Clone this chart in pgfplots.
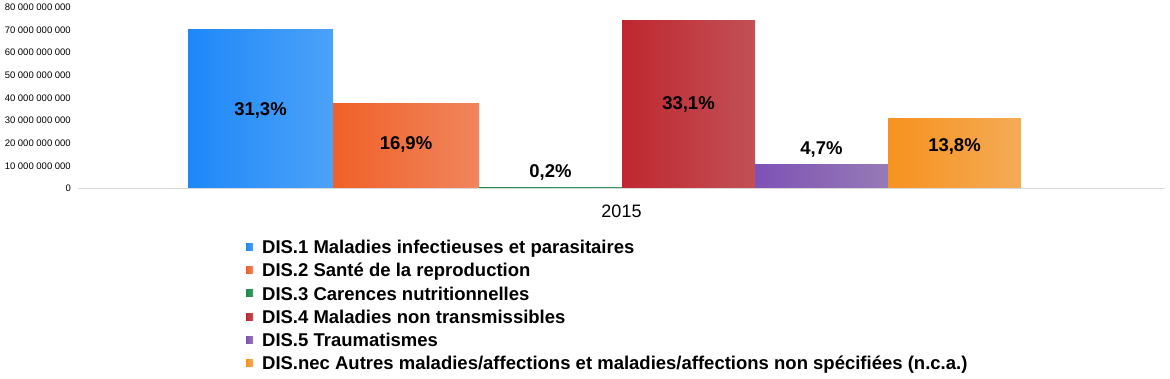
\documentclass[border=0pt]{standalone}
\usepackage{pgfplots}
\pgfplotsset{compat=1.18}
\usepackage{fontspec}
\setmainfont{Liberation Sans}
\definecolor{b1}{HTML}{1E88F8}\definecolor{b2}{HTML}{4CA2F8}
\definecolor{o1}{HTML}{F06028}\definecolor{o2}{HTML}{F0855C}
\definecolor{g1}{HTML}{1E8A4A}\definecolor{g2}{HTML}{3A9A60}
\definecolor{r1}{HTML}{BF272F}\definecolor{r2}{HTML}{C25056}
\definecolor{p1}{HTML}{7E52B5}\definecolor{p2}{HTML}{967AB6}
\definecolor{y1}{HTML}{F7921E}\definecolor{y2}{HTML}{F4AB56}
\pgfplotsset{mybar/.style={ybar, bar shift=0pt, draw=none,
  legend image code/.code={\path[##1] (1pt,-3.4pt) rectangle (8pt,3.6pt); \path (0pt,0pt) -- (17pt,0pt);}}}
\begin{document}
\begin{tikzpicture}
\useasboundingbox (0,0) rectangle (1170pt,379pt);
\begin{axis}[
  at={(78pt,190.7pt)}, anchor=south west,
  scale only axis, width=1087pt, height=181pt,
  xmin=78, xmax=1165, ymin=0, ymax=80e9,
  axis y line=none, axis x line*=bottom,
  x axis line style={-, draw=black!15, line width=0.8pt},
  axis on top,
  xtick={621.5}, xticklabels={2015},
  xticklabel style={font=\fontsize{18}{20}\selectfont, inner sep=0pt, yshift=-16pt},
  major tick length=0pt,
  scaled y ticks=false,
  legend style={at={(axis description cs:0.1536,-0.260)}, anchor=north west,
    draw=none, fill=none, inner sep=0pt, row sep=0pt,
    font=\bfseries\fontsize{18.5}{22}\selectfont,
    nodes={inner sep=0pt, text height=18.2pt, text depth=5pt},
    /tikz/every even column/.append style={column sep=0pt}},
  legend cell align=left,
  clip=false,
]
\addplot[mybar, bar width=145, left color=b1, right color=b2] coordinates {(260.5,70.3e9)};
\addlegendentry{DIS.1 Maladies infectieuses et parasitaires}
\addplot[mybar, bar width=146, left color=o1, right color=o2] coordinates {(406,37.7e9)};
\addlegendentry{DIS.2 Santé de la reproduction}
\addplot[mybar, bar width=143, left color=g1, right color=g2] coordinates {(550.5,0.45e9)};
\addlegendentry{DIS.3 Carences nutritionnelles}
\addplot[mybar, bar width=133, left color=r1, right color=r2] coordinates {(688.5,74.3e9)};
\addlegendentry{DIS.4 Maladies non transmissibles}
\addplot[mybar, bar width=133, left color=p1, right color=p2] coordinates {(821.5,10.3e9)};
\addlegendentry{DIS.5 Traumatismes}
\addplot[mybar, bar width=133, left color=y1, right color=y2] coordinates {(954.5,31.0e9)};
\addlegendentry{DIS.nec Autres maladies/affections et maladies/affections non spécifiées (n.c.a.)}
\begin{scope}[every node/.style={font=\bfseries\fontsize{18.5}{22}\selectfont, inner sep=0pt, text height=13.2pt, text depth=0pt}]
\node at (axis cs:260.5,35.2e9) {31,3\%};
\node at (axis cs:406,20.0e9) {16,9\%};
\node at (axis cs:550.5,7.6e9) {0,2\%};
\node at (axis cs:688.5,37.7e9) {33,1\%};
\node at (axis cs:821.5,17.8e9) {4,7\%};
\node at (axis cs:954.5,19.1e9) {13,8\%};
\end{scope}
\begin{scope}[every node/.style={anchor=east, inner sep=0pt, text height=6.8pt, text depth=0pt, font=\fontsize{9.5}{11}\selectfont}]
\node at (axis cs:71,80e9) {80 000 000 000};
\node at (axis cs:71,70e9) {70 000 000 000};
\node at (axis cs:71,60e9) {60 000 000 000};
\node at (axis cs:71,50e9) {50 000 000 000};
\node at (axis cs:71,40e9) {40 000 000 000};
\node at (axis cs:71,30e9) {30 000 000 000};
\node at (axis cs:71,20e9) {20 000 000 000};
\node at (axis cs:71,10e9) {10 000 000 000};
\node at (axis cs:71,0) {0};
\end{scope}
\end{axis}
\end{tikzpicture}
\end{document}
